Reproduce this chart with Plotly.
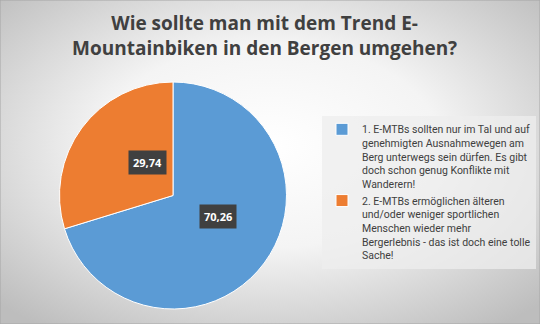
import base64
import math
import plotly.graph_objects as go

# ---- data ----
labels = [
    "1. E-MTBs sollten nur im Tal und auf<br>genehmigten Ausnahmewegen am<br>Berg unterwegs sein dürfen. Es gibt<br>doch schon genug Konflikte mit<br>Wanderern!",
    "2. E-MTBs ermöglichen älteren<br>und/oder weniger sportlichen<br>Menschen wieder mehr<br>Bergerlebnis - das ist doch eine tolle<br>Sache!",
]
values = [70.26, 29.74]
colors = ["#5B9BD5", "#ED7D31"]
title_text = "Wie sollte man mit dem Trend E-<br>Mountainbiken in den Bergen umgehen?"

# ---- background gradient (radial, Excel-like) ----
svg = (
    '<svg xmlns="http://www.w3.org/2000/svg" width="540" height="324">'
    '<defs><radialGradient id="g" cx="50%" cy="45%" r="70%">'
    '<stop offset="0%" stop-color="#ffffff"/>'
    '<stop offset="45%" stop-color="#f4f4f4"/>'
    '<stop offset="100%" stop-color="#bdbdbd"/>'
    '</radialGradient></defs>'
    '<rect width="540" height="324" fill="url(#g)"/></svg>'
)
bg_uri = "data:image/svg+xml;base64," + base64.b64encode(svg.encode()).decode()

W, H = 540, 324
dom_x = [59 / W, 287 / W]
dom_y = [1 - 309 / H, 1 - 82 / H]

fig = go.Figure(
    go.Pie(
        labels=labels, values=values, sort=False, direction="clockwise", rotation=0,
        marker=dict(colors=colors, line=dict(color="white", width=1)),
        textinfo="none", hoverinfo="label+value", domain=dict(x=dom_x, y=dom_y),
    )
)

# data labels as boxed annotations, placed from the slice angles
cx = (dom_x[0] + dom_x[1]) / 2
cy = (dom_y[0] + dom_y[1]) / 2
r_px = min((dom_x[1] - dom_x[0]) * W, (dom_y[1] - dom_y[0]) * H) / 2
total = sum(values)
start = 0.0
for v in values:
    mid = (start + v / 2) / total * 2 * math.pi
    start += v
    frac = 0.49
    dx = math.sin(mid) * r_px * frac / W
    dy = math.cos(mid) * r_px * frac / H
    fig.add_annotation(
        x=cx + dx, y=cy + dy, xref="paper", yref="paper",
        text="<b>" + f"{v:.2f}".replace(".", ",") + "</b>",
        showarrow=False, bgcolor="#404040", borderpad=4,
        font=dict(color="white", size=11, family="Open Sans"),
    )

# title
fig.add_annotation(
    x=0.49, y=1 - 8 / H, xref="paper", yref="paper", xanchor="center", yanchor="top",
    text="<b>" + title_text + "</b>", showarrow=False,
    font=dict(family="Open Sans", size=19, color="#404040"),
)

fig.add_layout_image(
    dict(source=bg_uri, xref="paper", yref="paper", x=0, y=1, sizex=1, sizey=1,
         sizing="stretch", layer="below", xanchor="left", yanchor="top")
)
fig.add_shape(type="rect", xref="paper", yref="paper", x0=0, y0=0, x1=1, y1=1,
              line=dict(color="#a6a6a6", width=1))

fig.update_layout(
    width=W, height=H,
    margin=dict(l=0, r=0, t=0, b=0, autoexpand=False),
    paper_bgcolor="white",
    legend=dict(
        x=322 / W, y=1 - 116 / H, xanchor="left", yanchor="top",
        bgcolor="rgba(238,238,238,0.75)",
        font=dict(family="Roboto", size=10.5, color="#404040"),
        itemwidth=30, valign="top", tracegroupgap=6,
    ),
    showlegend=True,
)

fig.write_html("out.html")
